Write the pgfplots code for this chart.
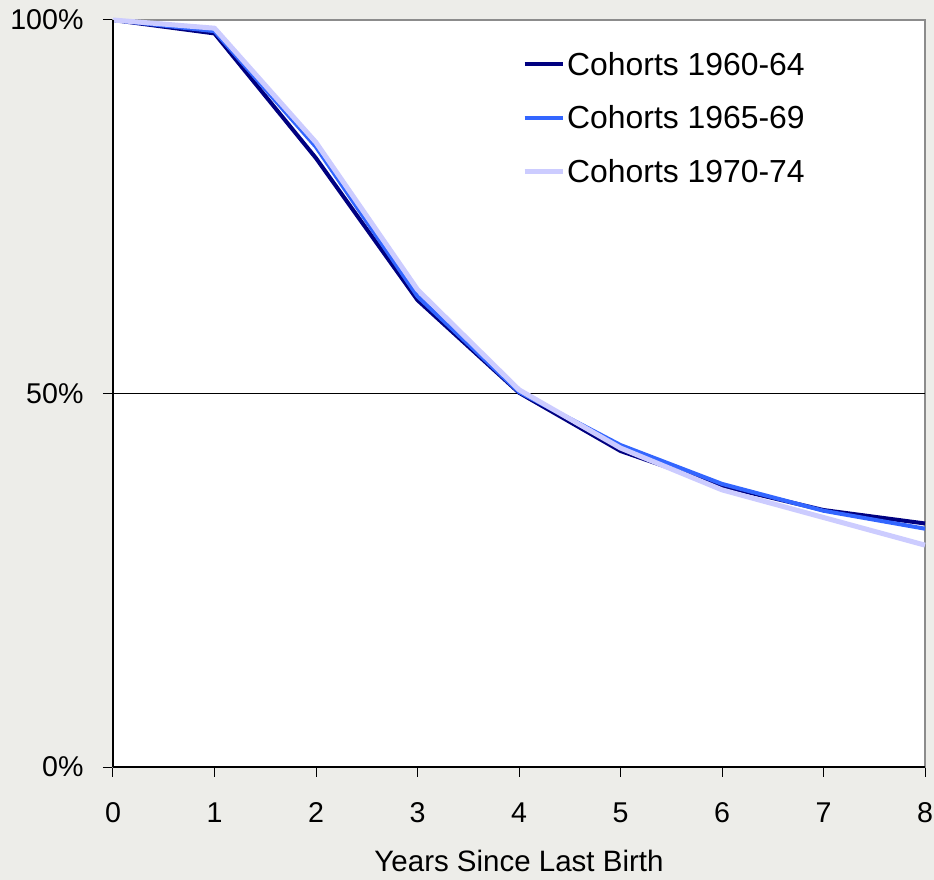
\documentclass[border=0pt]{standalone}
\usepackage{pgfplots}
\pgfplotsset{compat=1.18}
\usepackage{fontspec}
\setmainfont{Liberation Sans}
\definecolor{bgc}{RGB}{237,237,233}
\definecolor{cnavy}{RGB}{0,0,128}
\definecolor{cblue}{RGB}{51,102,255}
\definecolor{clight}{RGB}{204,204,255}
\definecolor{frame}{RGB}{140,140,140}
\begin{document}
\begin{tikzpicture}[x=1bp,y=1bp]
\fill[bgc] (-113bp,-113bp) rectangle (821bp,767bp);
\useasboundingbox (-113bp,-113bp) rectangle (821bp,767bp);
\begin{axis}[
  at={(0,0)}, anchor=south west,
  scale only axis, width=812bp, height=747bp,
  xmin=0, xmax=8, ymin=0, ymax=100,
  axis background/.style={fill=white},
  axis line style={draw=frame, line width=1.2bp},
  xtick={0,1,2,3,4,5,6,7,8},
  xticklabels={0,1,2,3,4,5,6,7,8},
  ytick={0,50,100},
  yticklabels={0\%,50\%,100\%},
  xtick pos=left, ytick pos=left,
  tick align=outside,
  major tick length=10bp,
  tick style={black, line width=1bp},
  tick label style={font=\fontsize{28.7}{34}\selectfont, black},
  xticklabel style={yshift=-22bp},
  yticklabel style={xshift=-16bp},
  xlabel={Years Since Last Birth},
  xlabel style={font=\fontsize{29.6}{35}\selectfont, yshift=-21bp},
  legend style={draw=none, fill=none, at={(409bp,717bp)}, anchor=north west,
    font=\fontsize{32}{38}\selectfont, row sep=25bp, inner sep=0pt,
    legend cell align=left},
  legend image code/.code={\draw[#1] (0bp,0bp) -- (38bp,0bp);},
  clip=false,
]
\draw[black, line width=1bp] (axis cs:0,50) -- (axis cs:8,50);
\addplot[cnavy, line width=4bp, line join=round] coordinates {
 (0,100) (1,98.2) (2,81.5) (3,62.5) (4,50.1) (5,42.3) (6,37.6) (7,34.4) (8,32.6)};
\addlegendentry{Cohorts 1960-64}
\addplot[cblue, line width=4bp, line join=round] coordinates {
 (0,100) (1,98.5) (2,83.0) (3,63.0) (4,50.2) (5,43.1) (6,37.9) (7,34.3) (8,31.9)};
\addlegendentry{Cohorts 1965-69}
\addplot[clight, line width=5bp, line join=round] coordinates {
 (0,100) (1,98.9) (2,83.6) (3,63.9) (4,50.5) (5,42.7) (6,37.1) (7,33.4) (8,29.7)};
\addlegendentry{Cohorts 1970-74}
\draw[black, line width=1.5bp] (axis cs:0,0) -- (axis cs:0,100);
\draw[black, line width=1.5bp] (axis cs:0,0) -- (axis cs:8,0);
\end{axis}
\end{tikzpicture}
\end{document}
